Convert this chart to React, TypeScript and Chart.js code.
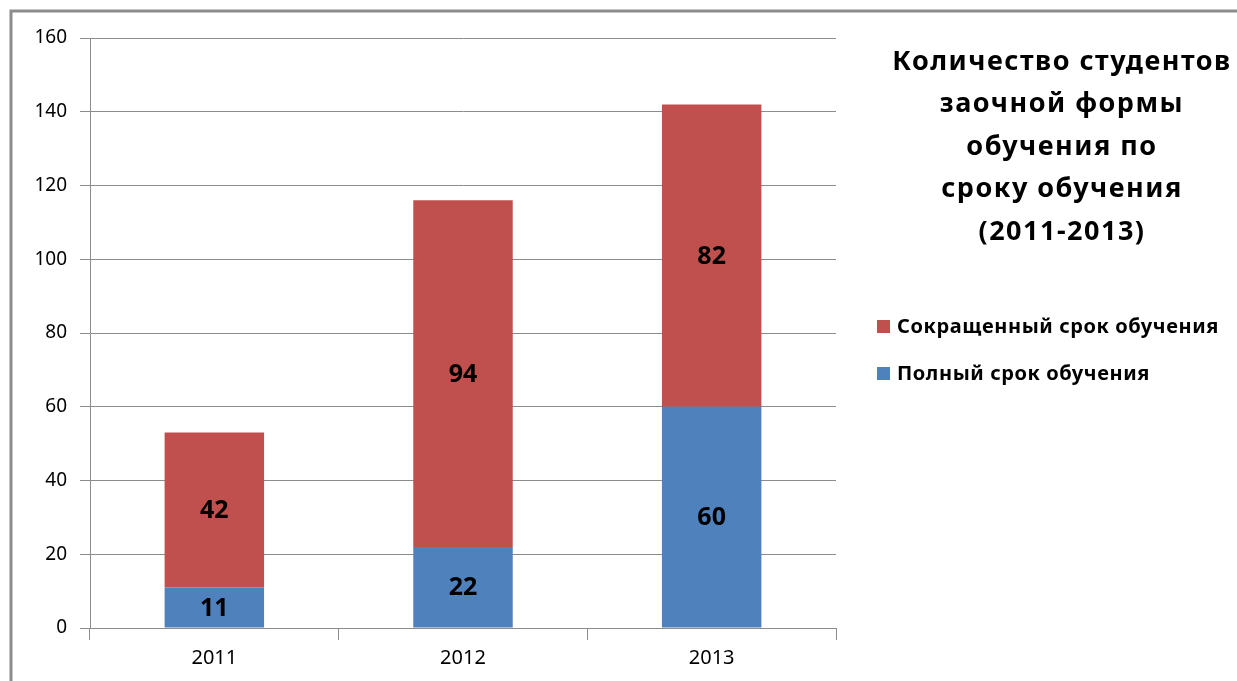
import React, { useEffect, useRef } from "react";
import { Chart, registerables } from "chart.js";

Chart.register(...registerables);

const categories = ["2011", "2012", "2013"];
const fullTerm = [11, 22, 60];
const shortTerm = [42, 94, 82];
const seriesNames = ["Полный срок обучения", "Сокращенный срок обучения"];
const titleLines = [
  "Количество студентов",
  "заочной формы",
  "обучения по",
  "сроку обучения",
  "(2011-2013)",
];
const yTicks = { min: 0, max: 160, step: 20 };

const BLUE = "#4F81BD";
const RED = "#C0504D";
const FONT = "'Noto Sans', 'DejaVu Sans', sans-serif";

const overlayPlugin = {
  id: "overlay",
  afterDatasetsDraw(chart: any) {
    const ctx = chart.ctx;
    ctx.save();
    ctx.fillStyle = "#000";
    ctx.font = `bold 25px ${FONT}`;
    ctx.textAlign = "center";
    ctx.textBaseline = "middle";
    chart.data.datasets.forEach((ds: any, di: number) => {
      const meta = chart.getDatasetMeta(di);
      meta.data.forEach((bar: any, i: number) => {
        const { x, y, base } = bar.getProps(["x", "y", "base"], true);
        ctx.fillText(String(ds.data[i]), x, (y + base) / 2 + 1);
      });
    });
    ctx.restore();
  },
  afterDraw(chart: any) {
    const ctx = chart.ctx;
    ctx.save();
    ctx.strokeStyle = "#8c8c8c";
    ctx.lineWidth = 3;
    ctx.beginPath();
    ctx.moveTo(11, 690);
    ctx.lineTo(11, 11);
    ctx.lineTo(1240, 11);
    ctx.stroke();
    ctx.fillStyle = "#000";
    ctx.font = `bold 27px ${FONT}`;
    (ctx as any).letterSpacing = "1.5px";
    ctx.textAlign = "center";
    ctx.textBaseline = "middle";
    titleLines.forEach((line, i) => {
      ctx.fillText(line, 1062, 62 + i * 42.5);
    });
    const items = [
      { label: seriesNames[1], color: RED, y: 327 },
      { label: seriesNames[0], color: BLUE, y: 374 },
    ];
    ctx.font = `bold 20px ${FONT}`;
    (ctx as any).letterSpacing = "0.6px";
    ctx.textAlign = "left";
    items.forEach((it) => {
      ctx.fillStyle = it.color;
      ctx.fillRect(877, it.y - 7, 13, 13);
      ctx.fillStyle = "#000";
      ctx.fillText(it.label, 897, it.y);
    });
    ctx.restore();
  },
};

export default function App() {
  const ref = useRef<HTMLCanvasElement>(null);
  useEffect(() => {
    if (!ref.current) return;
    const chart = new Chart(ref.current, {
      type: "bar",
      data: {
        labels: categories,
        datasets: [
          { label: seriesNames[0], data: fullTerm, backgroundColor: BLUE, barPercentage: 0.4, categoryPercentage: 1 },
          { label: seriesNames[1], data: shortTerm, backgroundColor: RED, barPercentage: 0.4, categoryPercentage: 1 },
        ],
      },
      options: {
        animation: false,
        responsive: false,
        layout: { padding: { top: 38, right: 401, left: 0, bottom: 0 } },
        plugins: { legend: { display: false }, tooltip: { enabled: false } },
        scales: {
          x: {
            stacked: true,
            afterFit: (s: any) => { s.height = 53; },
            grid: { display: true, drawOnChartArea: false, drawTicks: true, tickLength: 12, color: "#8c8c8c", offset: true },
            border: { color: "#8c8c8c", width: 1 },
            ticks: { color: "#000", font: { family: FONT, size: 20 }, padding: 6 },
          },
          y: {
            stacked: true,
            min: yTicks.min,
            max: yTicks.max,
            afterFit: (s: any) => { s.width = 90; },
            grid: { color: "#8c8c8c", tickLength: 10, drawTicks: true },
            border: { color: "#8c8c8c", width: 1 },
            ticks: { stepSize: yTicks.step, color: "#000", font: { family: FONT, size: 19 }, padding: 13 },
          },
        },
      },
      plugins: [overlayPlugin],
    });
    return () => chart.destroy();
  }, []);
  return (
    <div style={{ position: "absolute", left: 0, top: 0, width: 1237, height: 681, background: "#fff" }}>
      <canvas ref={ref} width={1237} height={681} />
    </div>
  );
}
